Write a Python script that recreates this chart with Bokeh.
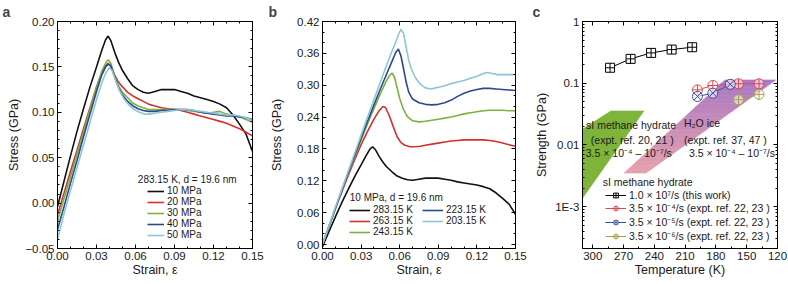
import math
from bokeh.plotting import figure
from bokeh.layouts import row
from bokeh.models import (Range1d, LinearAxis, LogAxis, FixedTicker,
                          CustomJSTickFormatter, Legend, LegendItem, Label)
from bokeh.embed import file_html
from bokeh.resources import INLINE

FONT = "Liberation Sans"
H = 284

# ---------------- data: panel a (283.15 K, various pressures) ----------------
strain_283_10 = [0.000, 0.005, 0.010, 0.015, 0.020, 0.025, 0.030, 0.034, 0.037, 0.039, 0.041, 0.044,
                 0.047, 0.050, 0.054, 0.058, 0.062, 0.066, 0.070, 0.075, 0.080, 0.085, 0.090, 0.095,
                 0.100, 0.105, 0.110, 0.115, 0.120, 0.125, 0.130, 0.135, 0.140, 0.145, 0.150]
stress_283_10 = [-0.004, 0.024, 0.052, 0.079, 0.104, 0.128, 0.150, 0.168, 0.180, 0.184, 0.179, 0.166,
                 0.155, 0.146, 0.137, 0.129, 0.125, 0.122, 0.121, 0.123, 0.125, 0.125, 0.125, 0.123,
                 0.121, 0.118, 0.116, 0.114, 0.112, 0.109, 0.105, 0.097, 0.087, 0.076, 0.057]

strain_a = [0.000, 0.005, 0.010, 0.015, 0.020, 0.025, 0.030, 0.034, 0.037, 0.039, 0.041, 0.044,
            0.047, 0.050, 0.054, 0.058, 0.062, 0.066, 0.070, 0.075, 0.080, 0.085, 0.090, 0.095,
            0.100, 0.105, 0.110, 0.115, 0.120, 0.125, 0.130, 0.135, 0.140, 0.145, 0.150]
stress_20MPa = [-0.013, 0.011, 0.035, 0.058, 0.082, 0.105, 0.128, 0.143, 0.151, 0.154, 0.151, 0.141,
                0.133, 0.128, 0.122, 0.118, 0.115, 0.112, 0.109, 0.107, 0.105, 0.104, 0.103, 0.102,
                0.100, 0.098, 0.096, 0.094, 0.092, 0.090, 0.088, 0.085, 0.082, 0.078, 0.074]
stress_30MPa = [-0.020, 0.005, 0.029, 0.054, 0.078, 0.103, 0.127, 0.145, 0.154, 0.158, 0.154, 0.140,
                0.129, 0.122, 0.116, 0.110, 0.107, 0.105, 0.103, 0.103, 0.103, 0.103, 0.103, 0.103,
                0.102, 0.101, 0.100, 0.099, 0.100, 0.101, 0.098, 0.097, 0.095, 0.092, 0.089]
stress_40MPa = [-0.029, -0.004, 0.022, 0.047, 0.073, 0.098, 0.123, 0.141, 0.150, 0.153, 0.151, 0.139,
                0.127, 0.119, 0.112, 0.107, 0.104, 0.102, 0.101, 0.101, 0.102, 0.102, 0.103, 0.103,
                0.103, 0.102, 0.100, 0.099, 0.098, 0.097, 0.096, 0.096, 0.095, 0.094, 0.092]
strain_50MPa = [0.000, 0.005, 0.010, 0.015, 0.020, 0.025, 0.030, 0.034, 0.037, 0.040, 0.042, 0.045,
                0.048, 0.051, 0.055, 0.059, 0.063, 0.067, 0.070, 0.075, 0.080, 0.085, 0.090, 0.095,
                0.100, 0.105, 0.110, 0.115, 0.120, 0.125, 0.130, 0.135, 0.140, 0.145, 0.150]
stress_50MPa = [-0.040, -0.012, 0.014, 0.039, 0.064, 0.089, 0.114, 0.132, 0.143, 0.149, 0.146, 0.134,
                0.123, 0.115, 0.108, 0.103, 0.100, 0.098, 0.098, 0.099, 0.100, 0.101, 0.102, 0.103,
                0.103, 0.102, 0.101, 0.100, 0.099, 0.098, 0.097, 0.097, 0.096, 0.094, 0.091]

# ---------------- data: panel b (10 MPa, various temperatures) ----------------
strain_263K = [0.000, 0.005, 0.010, 0.015, 0.020, 0.025, 0.030, 0.035, 0.040, 0.044, 0.047, 0.049,
               0.052, 0.055, 0.058, 0.061, 0.064, 0.068, 0.072, 0.076, 0.080, 0.085, 0.090, 0.095,
               0.100, 0.105, 0.110, 0.115, 0.120, 0.125, 0.130, 0.135, 0.140, 0.145, 0.150]
stress_263K = [0.000, 0.034, 0.068, 0.099, 0.130, 0.160, 0.188, 0.213, 0.236, 0.252, 0.260, 0.258,
               0.242, 0.222, 0.203, 0.192, 0.187, 0.184, 0.184, 0.185, 0.187, 0.189, 0.191, 0.193,
               0.195, 0.196, 0.197, 0.197, 0.197, 0.197, 0.196, 0.194, 0.191, 0.188, 0.185]
strain_243K = [0.000, 0.005, 0.010, 0.015, 0.020, 0.025, 0.030, 0.035, 0.040, 0.045, 0.049, 0.052,
               0.054, 0.056, 0.058, 0.060, 0.063, 0.066, 0.070, 0.075, 0.080, 0.085, 0.090, 0.095,
               0.100, 0.105, 0.110, 0.115, 0.120, 0.125, 0.130, 0.135, 0.140, 0.145, 0.150]
stress_243K = [0.000, 0.034, 0.068, 0.101, 0.134, 0.166, 0.197, 0.227, 0.256, 0.284, 0.305, 0.318,
               0.323, 0.315, 0.295, 0.275, 0.254, 0.241, 0.233, 0.231, 0.232, 0.234, 0.236, 0.238,
               0.240, 0.243, 0.246, 0.248, 0.250, 0.252, 0.253, 0.253, 0.253, 0.252, 0.252]
strain_223K = [0.000, 0.005, 0.010, 0.015, 0.020, 0.025, 0.030, 0.035, 0.040, 0.045, 0.050, 0.054,
               0.057, 0.059, 0.061, 0.063, 0.065, 0.067, 0.070, 0.075, 0.080, 0.085, 0.090, 0.095,
               0.100, 0.105, 0.110, 0.115, 0.120, 0.125, 0.130, 0.135, 0.140, 0.145, 0.150]
stress_223K = [0.000, 0.034, 0.068, 0.102, 0.135, 0.168, 0.200, 0.232, 0.263, 0.293, 0.322, 0.345,
               0.362, 0.368, 0.355, 0.331, 0.306, 0.287, 0.274, 0.267, 0.264, 0.263, 0.264, 0.267,
               0.272, 0.279, 0.285, 0.289, 0.292, 0.294, 0.294, 0.293, 0.292, 0.291, 0.290]
strain_203K = [0.000, 0.005, 0.010, 0.015, 0.020, 0.025, 0.030, 0.035, 0.040, 0.045, 0.050, 0.054,
               0.057, 0.059, 0.061, 0.063, 0.065, 0.067, 0.069, 0.072, 0.076, 0.080, 0.084, 0.088,
               0.092, 0.096, 0.100, 0.105, 0.110, 0.115, 0.120, 0.125, 0.128, 0.132, 0.136, 0.140,
               0.145, 0.150]
stress_203K = [0.000, 0.035, 0.070, 0.104, 0.138, 0.172, 0.206, 0.240, 0.273, 0.306, 0.339, 0.364,
               0.382, 0.395, 0.405, 0.398, 0.372, 0.347, 0.331, 0.315, 0.302, 0.295, 0.293, 0.295,
               0.297, 0.300, 0.303, 0.306, 0.309, 0.313, 0.317, 0.322, 0.324, 0.322, 0.320, 0.320,
               0.320, 0.320]

# ---------------- data: panel c (strength vs temperature) ----------------
temp_this_work = [283.15, 263.15, 243.15, 223.15, 203.15]
strength_this_work = [0.178, 0.248, 0.310, 0.351, 0.383]
temp_rate_e4 = [198, 183, 158, 138]
strength_rate_e4 = [0.078, 0.092, 0.098, 0.098]
temp_rate_e5 = [198, 183, 166]
strength_rate_e5 = [0.061, 0.069, 0.096]
temp_rate_e6 = [158, 138]
strength_rate_e6 = [0.054, 0.066]
# experimental regions (corners)
hydrate_region_T = [282.5, 250.1, 330.8, 330.8]
hydrate_region_S = [0.0356, 0.0356, 0.00044, 0.0108]
ice_region_T = [269.5, 248.1, 121.7, 171.3]     # bottom-left, bottom-right, top-right, top-left
ice_region_S = [0.0035, 0.0035, 0.113, 0.113]

# tick labels
x_ticks_ab = [0.0, 0.03, 0.06, 0.09, 0.12, 0.15]
y_ticks_a = [-0.05, 0.0, 0.05, 0.10, 0.15, 0.20]
y_ticks_b = [0.0, 0.06, 0.12, 0.18, 0.24, 0.30, 0.36, 0.42]
x_ticks_c = [120, 150, 180, 210, 240, 270, 300]
y_ticks_c = [0.001, 0.01, 0.1, 1.0]
y_labels_c = ["1E-3", "0.01", "0.1", "1"]

COL = {"black": "#111111", "red": "#d3302e", "green": "#7ab342", "blue": "#2b4a8c", "lblue": "#8ec6d8"}

fmt2 = CustomJSTickFormatter(code="""
const v = Math.abs(tick) < 1e-9 ? 0 : tick;
return (v < 0 ? "\u2212" : "") + Math.abs(v).toFixed(2);
""")
fmt_log = CustomJSTickFormatter(args=dict(vals=y_ticks_c, labs=y_labels_c), code="""
for (let i = 0; i < vals.length; i++) {
  if (Math.abs(Math.log10(tick) - Math.log10(vals[i])) < 1e-6) return labs[i];
}
return "";
""")


def style_axis(ax, show_labels=True):
    ax.axis_line_color = "black"
    ax.major_tick_in = 4
    ax.major_tick_out = 0
    ax.minor_tick_in = 2
    ax.minor_tick_out = 0
    ax.major_tick_line_color = "black"
    ax.minor_tick_line_color = "black"
    ax.major_label_text_font = FONT
    ax.axis_label_text_font = FONT
    ax.axis_label_text_font_size = "12.5px"
    ax.axis_label_text_font_style = "normal"
    ax.axis_label_text_color = "#1a1a1a"
    if show_labels:
        ax.major_label_text_color = "#1a1a1a"
        ax.major_label_text_font_size = "11.5px"
        ax.major_label_standoff = 3
    else:
        ax.major_label_text_color = None
        ax.major_label_text_font_size = "1px"
        ax.major_label_standoff = 0


def base_fig(width, x_range, y_range, left, right, top, letter, y_axis_type="linear"):
    p = figure(width=width, height=H, x_range=x_range, y_range=y_range, y_axis_type=y_axis_type,
               output_backend="svg", toolbar_location=None,
               min_border_left=left, min_border_right=right, min_border_top=top, min_border_bottom=36)
    p.xgrid.visible = False
    p.ygrid.visible = False
    p.outline_line_color = "black"
    p.outline_line_width = 1
    p.background_fill_color = "white"
    p.border_fill_color = "white"
    p.title.text = letter
    p.title.text_font = FONT
    p.title.text_font_size = "14px"
    p.title.text_font_style = "bold"
    p.title.align = "left"
    p.title.standoff = 0
    p.title.offset = -(left - 2)
    p.title.vertical_align = "top"
    return p


def add_ticks(p, xt, yt, xfmt, yfmt, xlabel, ylabel, ylab_standoff, log_y=False):
    xa = p.xaxis[0]
    ya = p.yaxis[0]
    xa.ticker = xt
    ya.ticker = yt
    if xfmt is not None:
        xa.formatter = xfmt
    ya.formatter = yfmt
    xa.axis_label = xlabel
    ya.axis_label = ylabel
    style_axis(xa)
    style_axis(ya)
    xa.axis_label_standoff = 0
    ya.axis_label_standoff = ylab_standoff
    top = LinearAxis(ticker=xt)
    style_axis(top, False)
    p.add_layout(top, "above")
    right = LogAxis(ticker=yt) if log_y else LinearAxis(ticker=yt)
    style_axis(right, False)
    p.add_layout(right, "right")


def make_legend(items, loc, gw, gh, font_size, spacing=0):
    return Legend(items=items, location=loc, orientation="vertical",
                  label_text_font=FONT, label_text_font_size=font_size, label_text_color="#1a1a1a",
                  glyph_width=gw, glyph_height=gh, label_height=gh, label_standoff=3,
                  spacing=spacing, padding=0, margin=0,
                  background_fill_alpha=0, border_line_color=None)


def note(p, x, y, t, size="10px"):
    p.add_layout(Label(x=x, y=y, text=t, text_font=FONT, text_font_size=size,
                       text_color="#1a1a1a", text_baseline="middle", text_align="left"))


minor_x_ab = [round(0.01 * i, 2) for i in range(16)]

# ---------------- panel a ----------------
pa = base_fig(266, Range1d(0, 0.15), Range1d(-0.05, 0.20), 57, 14, 21, "a")
add_ticks(pa, FixedTicker(ticks=x_ticks_ab, minor_ticks=minor_x_ab),
          FixedTicker(ticks=y_ticks_a, minor_ticks=[round(-0.05 + 0.01 * i, 2) for i in range(26)]),
          fmt2, fmt2, "Strain, \u03b5", "Stress (GPa)", 1)
lw = 1.6
ra1 = pa.line(strain_283_10, stress_283_10, line_color=COL["black"], line_width=lw)
ra2 = pa.line(strain_a, stress_20MPa, line_color=COL["red"], line_width=lw)
ra3 = pa.line(strain_a, stress_30MPa, line_color=COL["green"], line_width=lw)
ra4 = pa.line(strain_a, stress_40MPa, line_color=COL["blue"], line_width=lw)
ra5 = pa.line(strain_50MPa, stress_50MPa, line_color=COL["lblue"], line_width=lw)
note(pa, 0.0618, 0.0256, "283.15 K, d = 19.6 nm")
pa.add_layout(make_legend([LegendItem(label="10 MPa", renderers=[ra1]),
                           LegendItem(label="20 MPa", renderers=[ra2]),
                           LegendItem(label="30 MPa", renderers=[ra3]),
                           LegendItem(label="40 MPa", renderers=[ra4]),
                           LegendItem(label="50 MPa", renderers=[ra5])], (90, 8), 17, 10, "10px"))

# ---------------- panel b ----------------
pb = base_fig(264, Range1d(0, 0.15), Range1d(-0.0075, 0.42), 56, 15, 21, "b")
add_ticks(pb, FixedTicker(ticks=x_ticks_ab, minor_ticks=minor_x_ab),
          FixedTicker(ticks=y_ticks_b, minor_ticks=[round(0.02 * i, 2) for i in range(22)]),
          fmt2, fmt2, "Strain, \u03b5", "Stress (GPa)", 10)
rb1 = pb.line(strain_283_10, stress_283_10, line_color=COL["black"], line_width=lw)
rb2 = pb.line(strain_263K, stress_263K, line_color=COL["red"], line_width=lw)
rb3 = pb.line(strain_243K, stress_243K, line_color=COL["green"], line_width=lw)
rb4 = pb.line(strain_223K, stress_223K, line_color=COL["blue"], line_width=lw)
rb5 = pb.line(strain_203K, stress_203K, line_color=COL["lblue"], line_width=lw)
note(pb, 0.0212, 0.089, "10 MPa, d = 19.6 nm")
pb.add_layout(make_legend([LegendItem(label="283.15 K", renderers=[rb1]),
                           LegendItem(label="263.15 K", renderers=[rb2]),
                           LegendItem(label="243.15 K", renderers=[rb3])], (27, 11), 21, 10, "10px"))
pb.add_layout(make_legend([LegendItem(label="223.15 K", renderers=[rb4]),
                           LegendItem(label="203.15 K", renderers=[rb5])], (100, 22), 21, 10, "10px"))

# ---------------- panel c ----------------
pc = base_fig(258, Range1d(310, 120), Range1d(2.1e-4, 1.0), 52, 11, 19, "c", y_axis_type="log")
minor_log = [k * 10.0 ** e for e in range(-4, 0) for k in range(2, 10)]
add_ticks(pc, FixedTicker(ticks=x_ticks_c, minor_ticks=list(range(120, 316, 15))),
          FixedTicker(ticks=y_ticks_c, minor_ticks=minor_log),
          None, fmt_log, "Temperature (K)", "Strength (GPa)", 3, log_y=True)

pc.patch(hydrate_region_T, hydrate_region_S, fill_color="#7fb43a", line_color="#7fb43a", line_width=0.5)

# gradient fill for the ice region: split the band into strips
blT, brT, trT, tlT = ice_region_T
blS, brS, trS, tlS = [math.log10(v) for v in ice_region_S]
N = 24
c0 = (230, 162, 170)
c1 = (170, 120, 196)
xs, ys, cols = [], [], []
for i in range(N):
    s0, s1 = i / N, (i + 1) / N
    lt0, lt1 = blT + (tlT - blT) * s0, blT + (tlT - blT) * s1
    rt0, rt1 = brT + (trT - brT) * s0, brT + (trT - brT) * s1
    ls0, ls1 = blS + (tlS - blS) * s0, blS + (tlS - blS) * s1
    rs0, rs1 = brS + (trS - brS) * s0, brS + (trS - brS) * s1
    xs.append([lt0, rt0, rt1, lt1])
    ys.append([10 ** ls0, 10 ** rs0, 10 ** rs1, 10 ** ls1])
    m = (s0 + s1) / 2
    cols.append("#%02x%02x%02x" % tuple(int(round(c0[k] + (c1[k] - c0[k]) * m)) for k in range(3)))
pc.patches(xs, ys, fill_color=cols, line_color=cols, line_width=0.6)

r_this_l = pc.line(temp_this_work, strength_this_work, line_color="black", line_width=1)
r_this_m = pc.scatter(temp_this_work, strength_this_work, marker="square_cross", size=9,
                      line_color="black", fill_color="white", line_width=1)
r_e4_l = pc.line(temp_rate_e4, strength_rate_e4, line_color="#e0484c", line_width=1)
r_e4_m = pc.scatter(temp_rate_e4, strength_rate_e4, marker="circle_cross", size=10,
                    line_color="#e0484c", fill_color="white", fill_alpha=0.6, line_width=1)
r_e5_l = pc.line(temp_rate_e5, strength_rate_e5, line_color="#3c4f9e", line_width=1)
r_e5_m = pc.scatter(temp_rate_e5, strength_rate_e5, marker="circle_x", size=10,
                    line_color="#3c4f9e", fill_color="white", fill_alpha=0.6, line_width=1)
r_e6_l = pc.line(temp_rate_e6, strength_rate_e6, line_color="#a9a04a", line_width=1)
r_e6_m = pc.scatter(temp_rate_e6, strength_rate_e6, marker="circle_cross", size=10,
                    line_color="#a9a04a", fill_color="white", fill_alpha=0.6, line_width=1)

note(pc, 290.3, 0.00254, "sI methane hydrate", "10.5px")
note(pc, 306.5, 0.0212, "sI methane hydrate", "10.5px")
note(pc, 301.9, 0.01217, "(expt. ref. 20, 21 )", "10.5px")
note(pc, 306.8, 0.00741, "3.5 \u00d7 10\u207b\u2074 \u2013 10\u207b\u2077/s", "10.5px")
note(pc, 211.2, 0.0225, "H\u2082O ice", "10.5px")
note(pc, 211.2, 0.01217, "(expt. ref. 37, 47 )", "10.5px")
note(pc, 206.3, 0.00741, "3.5 \u00d7 10\u207b\u2074 \u2013 10\u207b\u2077/s", "10.5px")

pc.add_layout(make_legend([
    LegendItem(label="1.0 \u00d7 10\u2077/s (this work)", renderers=[r_this_l, r_this_m]),
    LegendItem(label="3.5 \u00d7 10\u207b\u2074/s (expt. ref. 22, 23 )", renderers=[r_e4_l, r_e4_m]),
    LegendItem(label="3.5 \u00d7 10\u207b\u2075/s (expt. ref. 22, 23 )", renderers=[r_e5_l, r_e5_m]),
    LegendItem(label="3.5 \u00d7 10\u207b\u2076/s (expt. ref. 22, 23 )", renderers=[r_e6_l, r_e6_m]),
], (23, 5), 21, 12, "10.5px"))

layout = row(pa, pb, pc)
open("out.html", "w").write(file_html(layout, INLINE))
